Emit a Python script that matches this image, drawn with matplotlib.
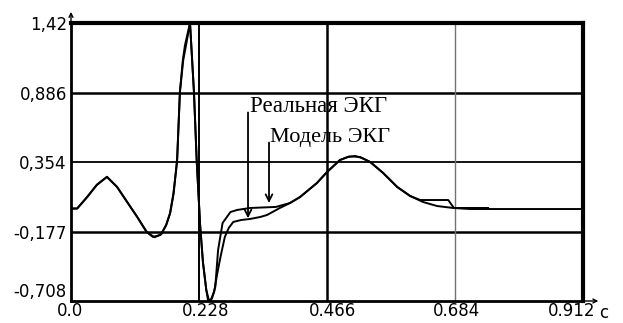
import matplotlib
matplotlib.use("Agg")
import matplotlib.pyplot as plt
import matplotlib.transforms as mtransforms

real_t = [0.0, 0.011, 0.029, 0.046, 0.064, 0.082, 0.100, 0.118, 0.135, 0.146,
          0.159, 0.169, 0.176, 0.182, 0.189, 0.194, 0.200, 0.205, 0.212, 0.219,
          0.224, 0.230, 0.235, 0.241, 0.244, 0.249, 0.255, 0.260, 0.267, 0.274,
          0.281, 0.289, 0.303, 0.319, 0.337, 0.349, 0.372, 0.390, 0.408, 0.438,
          0.456, 0.479, 0.493, 0.506, 0.518, 0.533, 0.556, 0.581, 0.604, 0.627,
          0.652, 0.681, 0.711, 0.912]
real_v = [0.0, 0.0, 0.088, 0.180, 0.241, 0.165, 0.050, -0.065, -0.180, -0.218,
          -0.203, -0.134, -0.042, 0.103, 0.356, 0.892, 1.137, 1.252, 1.42, 0.892,
          0.356, -0.126, -0.410, -0.624, -0.700, -0.700, -0.639, -0.509, -0.356, -0.218,
          -0.149, -0.103, -0.088, -0.080, -0.065, -0.050, 0.004, 0.042, 0.088, 0.195,
          0.279, 0.371, 0.394, 0.402, 0.387, 0.356, 0.272, 0.165, 0.096, 0.050,
          0.019, 0.004, -0.004, -0.004]

# model ECG
model_t = [0.0, 0.011, 0.029, 0.046, 0.064, 0.082, 0.100, 0.118, 0.135, 0.149,
           0.161, 0.170, 0.177, 0.183, 0.189, 0.194, 0.199, 0.203, 0.212, 0.219,
           0.224, 0.230, 0.235, 0.241, 0.246, 0.251, 0.257, 0.262, 0.270, 0.284,
           0.296, 0.319, 0.365, 0.390, 0.408, 0.438, 0.456, 0.479, 0.495, 0.504,
           0.515, 0.533, 0.556, 0.581, 0.604, 0.622, 0.672, 0.682, 0.743]
model_v = [0.0, 0.0, 0.090, 0.182, 0.243, 0.166, 0.050, -0.065, -0.182, -0.220,
           -0.196, -0.120, -0.030, 0.120, 0.380, 0.892, 1.130, 1.250, 1.42, 0.892,
           0.356, -0.126, -0.410, -0.624, -0.708, -0.690, -0.600, -0.318, -0.111, -0.027,
           -0.011, 0.004, 0.012, 0.042, 0.088, 0.195, 0.279, 0.371, 0.398, 0.398,
           0.394, 0.356, 0.272, 0.165, 0.096, 0.065, 0.065, 0.004, 0.004]

y_ticks = [1.42, 0.886, 0.354, -0.177, -0.708]
y_tick_labels = ["1,42", "0,886", "0,354", "-0,177", "-0,708"]
x_ticks = [0.0, 0.228, 0.456, 0.684, 0.912]
x_tick_labels = ["0.0", "0.228", "0.466", "0.684", "0.912"]

fig = plt.figure(figsize=(6.23, 3.23), dpi=100)
ax = fig.add_axes([71 / 623, 22 / 323, 512 / 623, 278 / 323])

# grid lines (drawn by hand, each has its own weight in the original)
for yv, lw in zip(y_ticks[1:4], [1.8, 1.3, 1.8]):
    ax.axhline(yv, color="black", lw=lw, zorder=1)
for xv, lw, col in zip(x_ticks[1:4], [1.4, 1.8, 1.0], ["black", "black", "0.45"]):
    ax.axvline(xv, color=col, lw=lw, zorder=1)

ax.plot(real_t, real_v, color="black", lw=1.4, zorder=3)
ax.plot(model_t, model_v, color="black", lw=1.4, zorder=3)

ax.set_xlim(0, 0.912)
ax.set_ylim(-0.708, 1.42)
ax.set_xticks(x_ticks)
ax.set_xticklabels(x_tick_labels)
ax.set_yticks(y_ticks)
ax.set_yticklabels(y_tick_labels)
ax.tick_params(length=0, labelsize=12, pad=3)
ax.tick_params(axis="x", pad=1)

# small horizontal shifts of the x labels, as printed
for lbl, dx in zip(ax.get_xticklabels(), [-1, 7, 5, 2, -11]):
    off = mtransforms.ScaledTranslation(dx / 100, 0, fig.dpi_scale_trans)
    lbl.set_transform(lbl.get_transform() + off)
ylbls = ax.get_yticklabels()
ylbls[-1].set_va("bottom")

for side, lw in {"left": 2.0, "bottom": 2.0, "top": 3.0, "right": 3.0}.items():
    ax.spines[side].set_linewidth(lw)

# little arrow heads at the axis ends
arr = dict(arrowstyle="->", lw=1.0, color="black", mutation_scale=7,
           shrinkA=0, shrinkB=0)
ax.annotate("", xy=(1.03, 0), xytext=(1.0, 0), xycoords="axes fraction",
            textcoords="axes fraction", arrowprops=arr, annotation_clip=False)
ax.annotate("", xy=(0, 1.04), xytext=(0, 1.0), xycoords="axes fraction",
            textcoords="axes fraction", arrowprops=arr, annotation_clip=False)

ax.text(1.04, -0.01, "c", transform=ax.transAxes, fontsize=12,
        ha="center", va="top")

# arrows with captions
serif = "Liberation Serif"
ax.text(0.3189, 0.739, "Реальная ЭКГ", family=serif, fontsize=16.5, va="baseline")
ax.annotate("", xy=(0.3153, -0.075), xytext=(0.3153, 0.735),
            arrowprops=dict(arrowstyle="->", lw=1.3, color="black",
                            mutation_scale=12, shrinkA=0, shrinkB=0))
ax.text(0.3545, 0.509, "Модель ЭКГ", family=serif, fontsize=16, va="baseline")
ax.annotate("", xy=(0.3527, 0.042), xytext=(0.3527, 0.505),
            arrowprops=dict(arrowstyle="->", lw=1.3, color="black",
                            mutation_scale=12, shrinkA=0, shrinkB=0))

fig.savefig("out.png", dpi=100)
